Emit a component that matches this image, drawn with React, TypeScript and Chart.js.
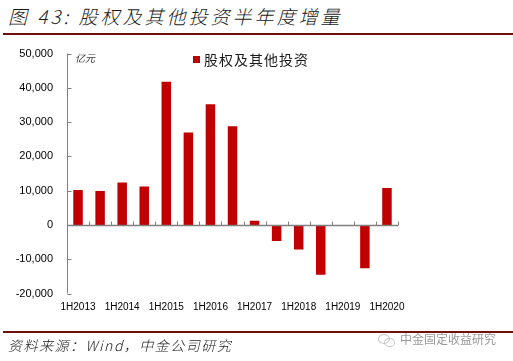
import React, { useEffect, useRef } from "react";
import { Chart, registerables } from "chart.js";

Chart.register(...registerables);

const categories = [
  "1H2013", "2H2013", "1H2014", "2H2014", "1H2015", "2H2015", "1H2016", "2H2016",
  "1H2017", "2H2017", "1H2018", "2H2018", "1H2019", "2H2019", "1H2020",
];
const equityValues = [
  10200, 9900, 12350, 11200, 41750, 26950, 35200, 28800,
  1200, -4700, -7200, -14500, 0, -12600, 10800,
];
const seriesName = "股权及其他投资";
const yMin = -20000;
const yMax = 50000;
const yStep = 10000;

const AXIS_COLOR = "#808080";
const BAR_COLOR = "#C00000";

const axesPlugin = {
  id: "excelAxes",
  afterDatasetsDraw(chart: any) {
    const { ctx, chartArea, scales } = chart;
    const x = scales.x;
    const y = scales.y;
    ctx.save();
    ctx.strokeStyle = AXIS_COLOR;
    ctx.lineWidth = 1;
    const ax = Math.round(chartArea.left) + 0.5;
    // y axis line
    ctx.beginPath();
    ctx.moveTo(ax, y.getPixelForValue(yMax));
    ctx.lineTo(ax, y.getPixelForValue(yMin));
    ctx.stroke();
    // y ticks (inside)
    for (let v = yMin; v <= yMax; v += yStep) {
      const py = Math.round(y.getPixelForValue(v)) + 0.5;
      ctx.beginPath();
      ctx.moveTo(ax, py);
      ctx.lineTo(ax + 4, py);
      ctx.stroke();
    }
    // zero line
    const zy = Math.round(y.getPixelForValue(0)) + 0.5;
    ctx.lineWidth = 1.5;
    ctx.beginPath();
    ctx.moveTo(ax, zy);
    ctx.lineTo(chartArea.right, zy);
    ctx.stroke();
    // category ticks on zero line (inside, upward)
    ctx.lineWidth = 1;
    const w = (chartArea.right - chartArea.left) / categories.length;
    for (let k = 1; k <= categories.length; k++) {
      const px = Math.round(x.getPixelForValue(k - 1) + w / 2) + 0.5;
      ctx.beginPath();
      ctx.moveTo(px, zy);
      ctx.lineTo(px, zy - 4);
      ctx.stroke();
    }
    ctx.restore();
  },
};

export default function App() {
  const canvasRef = useRef<HTMLCanvasElement | null>(null);

  useEffect(() => {
    const canvas = canvasRef.current;
    if (!canvas) return;
    const chart = new Chart(canvas, {
      type: "bar",
      data: {
        labels: categories,
        datasets: [
          {
            label: seriesName,
            data: equityValues,
            backgroundColor: BAR_COLOR,
            borderWidth: 0,
            categoryPercentage: 1,
            barPercentage: 0.43,
          },
        ],
      },
      options: {
        animation: false,
        responsive: false,
        devicePixelRatio: 1,
        layout: { padding: { left: 0, top: 53.5, right: 115, bottom: 42.5 } },
        plugins: {
          legend: { display: false },
          tooltip: { enabled: false },
          title: { display: false },
        },
        scales: {
          x: {
            grid: { display: false, drawTicks: false },
            border: { display: false },
            ticks: {
              autoSkip: false,
              maxRotation: 0,
              minRotation: 0,
              padding: 8,
              color: "#000",
              font: { family: "'Liberation Sans', Arial, sans-serif", size: 10 },
              callback: (_v: any, i: number) => (i % 2 === 0 ? categories[i] : ""),
            },
            afterFit: (s: any) => {
              s.height = 25;
            },
          },
          y: {
            min: yMin,
            max: yMax,
            grid: { display: false, drawTicks: false },
            border: { display: false },
            ticks: {
              stepSize: yStep,
              padding: 14,
              color: "#000",
              font: { family: "'Liberation Sans', Arial, sans-serif", size: 11 },
              callback: (v: any) => Number(v).toLocaleString("en-US"),
            },
            afterFit: (s: any) => {
              s.width = 67;
            },
          },
        },
      },
      plugins: [axesPlugin],
    });
    return () => chart.destroy();
  }, []);

  const cjk = "'Noto Sans CJK SC', 'Noto Sans', sans-serif";

  return (
    <div
      style={{
        position: "fixed",
        left: 0,
        top: 0,
        width: 513,
        height: 361,
        background: "#fff",
        overflow: "hidden",
      }}
    >
      <div
        style={{
          position: "absolute",
          left: 8,
          top: 3,
          fontFamily: cjk,
          fontStyle: "italic",
          fontSize: 19,
          letterSpacing: 3,
          fontWeight: 300,
          color: "#1a1a1a",
          whiteSpace: "nowrap",
          lineHeight: "26px",
        }}
      >
        图 43: 股权及其他投资半年度增量
      </div>
      <div
        style={{
          position: "absolute",
          left: 3,
          top: 33,
          width: 510,
          height: 2,
          background: "#6E0F0F",
        }}
      />
      <canvas
        ref={canvasRef}
        width={513}
        height={361}
        style={{ position: "absolute", left: 0, top: 0, width: 513, height: 361 }}
      />
      <div
        style={{
          position: "absolute",
          left: 75,
          top: 51,
          fontFamily: cjk,
          fontStyle: "italic",
          fontSize: 10,
          color: "#333",
          lineHeight: "14px",
        }}
      >
        亿元
      </div>
      <div
        style={{
          position: "absolute",
          left: 193,
          top: 56,
          width: 7,
          height: 7,
          background: BAR_COLOR,
        }}
      />
      <div
        style={{
          position: "absolute",
          left: 204,
          top: 50,
          fontFamily: cjk,
          fontSize: 14,
          letterSpacing: 1,
          color: "#1a1a1a",
          lineHeight: "18px",
          whiteSpace: "nowrap",
        }}
      >
        {seriesName}
      </div>
      <div
        style={{
          position: "absolute",
          left: 3,
          top: 331,
          width: 510,
          height: 2,
          background: "#6E0F0F",
        }}
      />
      <div
        style={{
          position: "absolute",
          left: 8,
          top: 336,
          fontFamily: cjk,
          fontStyle: "italic",
          fontSize: 14,
          letterSpacing: 1.5,
          fontWeight: 300,
          color: "#222",
          lineHeight: "18px",
          whiteSpace: "nowrap",
        }}
      >
        资料来源：Wind，中金公司研究
      </div>
      <div
        style={{
          position: "absolute",
          left: 378,
          top: 334,
          width: 10,
          height: 8,
          borderRadius: "50%",
          border: "1px solid #c8c8c8",
        }}
      />
      <div
        style={{
          position: "absolute",
          left: 384,
          top: 338,
          width: 9,
          height: 7,
          borderRadius: "50%",
          border: "1px solid #c8c8c8",
        }}
      />
      <div
        style={{
          position: "absolute",
          left: 400,
          top: 331,
          fontFamily: cjk,
          fontSize: 12,
          color: "#9a9a9a",
          lineHeight: "16px",
          whiteSpace: "nowrap",
        }}
      >
        中金固定收益研究
      </div>
    </div>
  );
}
